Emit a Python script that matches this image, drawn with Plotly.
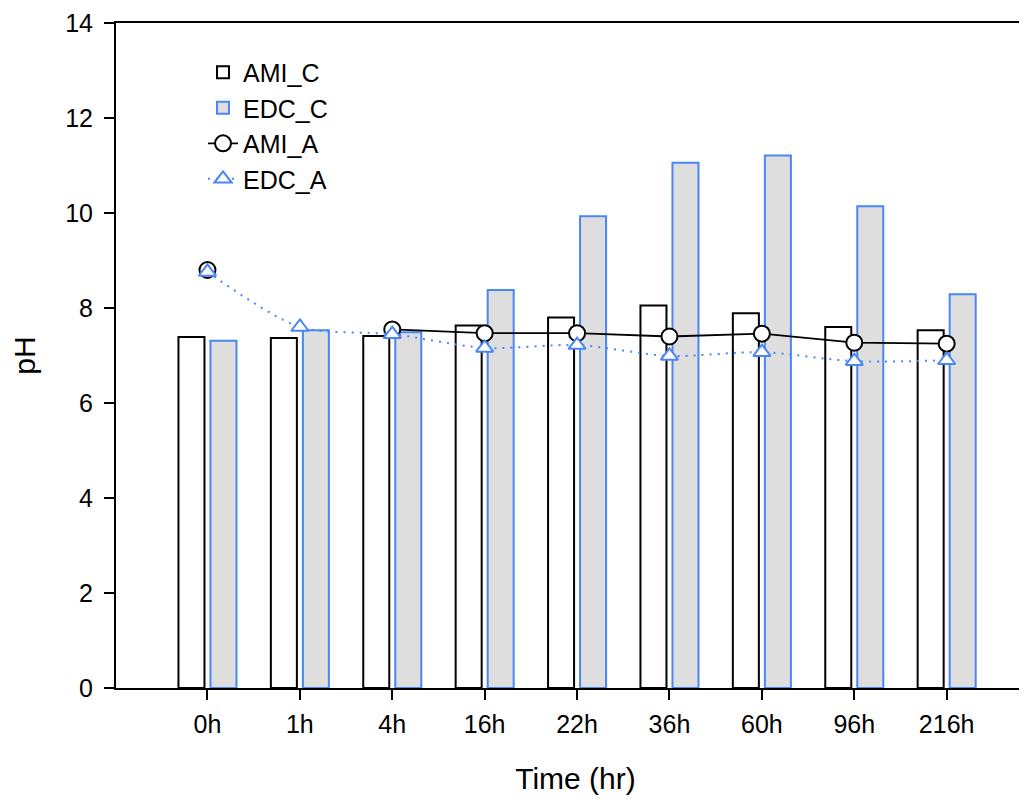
import plotly.graph_objects as go

categories = ["0h", "1h", "4h", "16h", "22h", "36h", "60h", "96h", "216h"]
ami_c = [7.39, 7.37, 7.41, 7.63, 7.80, 8.05, 7.89, 7.60, 7.53]
edc_c = [7.31, 7.53, 7.49, 8.38, 9.93, 11.06, 11.21, 10.14, 8.29]
ami_a = [8.80, None, 7.55, 7.47, 7.47, 7.40, 7.46, 7.27, 7.25]
edc_a = [8.76, 7.60, 7.45, 7.16, 7.22, 6.99, 7.07, 6.88, 6.90]
y_ticks = [0, 2, 4, 6, 8, 10, 12, 14]

BLUE = "#4a86f5"
FONT = "Liberation Sans, Arial, sans-serif"

fig = go.Figure()
fig.add_trace(go.Bar(x=categories, y=ami_c, name="AMI_C",
                     marker=dict(color="white", line=dict(color="black", width=2))))
fig.add_trace(go.Bar(x=categories, y=edc_c, name="EDC_C",
                     marker=dict(color="#dedede", line=dict(color=BLUE, width=2))))
fig.add_trace(go.Scatter(x=categories, y=ami_a, name="AMI_A", mode="lines+markers",
                         connectgaps=False,
                         line=dict(color="black", width=1.8),
                         marker=dict(symbol="circle", size=16, color="white",
                                     line=dict(color="black", width=2))))
fig.add_trace(go.Scatter(x=categories, y=edc_a, name="EDC_A", mode="lines+markers",
                         line=dict(color=BLUE, width=2, dash="2px,6px", shape="spline", smoothing=0.8),
                         marker=dict(symbol="triangle-up", size=15, color="white",
                                     line=dict(color=BLUE, width=2))))

fig.update_layout(
    width=1027, height=800,
    margin=dict(l=108, r=0, t=15, b=120),
    plot_bgcolor="white", paper_bgcolor="white",
    font=dict(family=FONT, size=25, color="black"),
    barmode="group", bargap=0.307, bargroupgap=0.1875,
    showlegend=True,
    legend=dict(x=0.0947, y=0.96, xanchor="left", yanchor="top",
                bgcolor="rgba(0,0,0,0)", font=dict(size=25), tracegroupgap=0),
    xaxis=dict(type="category", range=[-0.99, 8.956], automargin=False,
               showline=True, linecolor="black", linewidth=2, mirror=True,
               ticks="outside", ticklen=10, tickwidth=2, tickcolor="black",
               tickfont=dict(size=25), showgrid=False, zeroline=False,
               ticklabelstandoff=3,
               title=dict(text="Time (hr)", font=dict(size=30), standoff=31)),
    yaxis=dict(range=[0, 14], tickvals=y_ticks, automargin=False,
               showline=True, linecolor="black", linewidth=2,
               ticks="outside", ticklen=10, tickwidth=2, tickcolor="black",
               tickfont=dict(size=25), showgrid=False, zeroline=False,
               ticklabelstandoff=6,
               title=dict(text="pH", font=dict(size=30), standoff=22)),
)

fig.write_html("out.html")
